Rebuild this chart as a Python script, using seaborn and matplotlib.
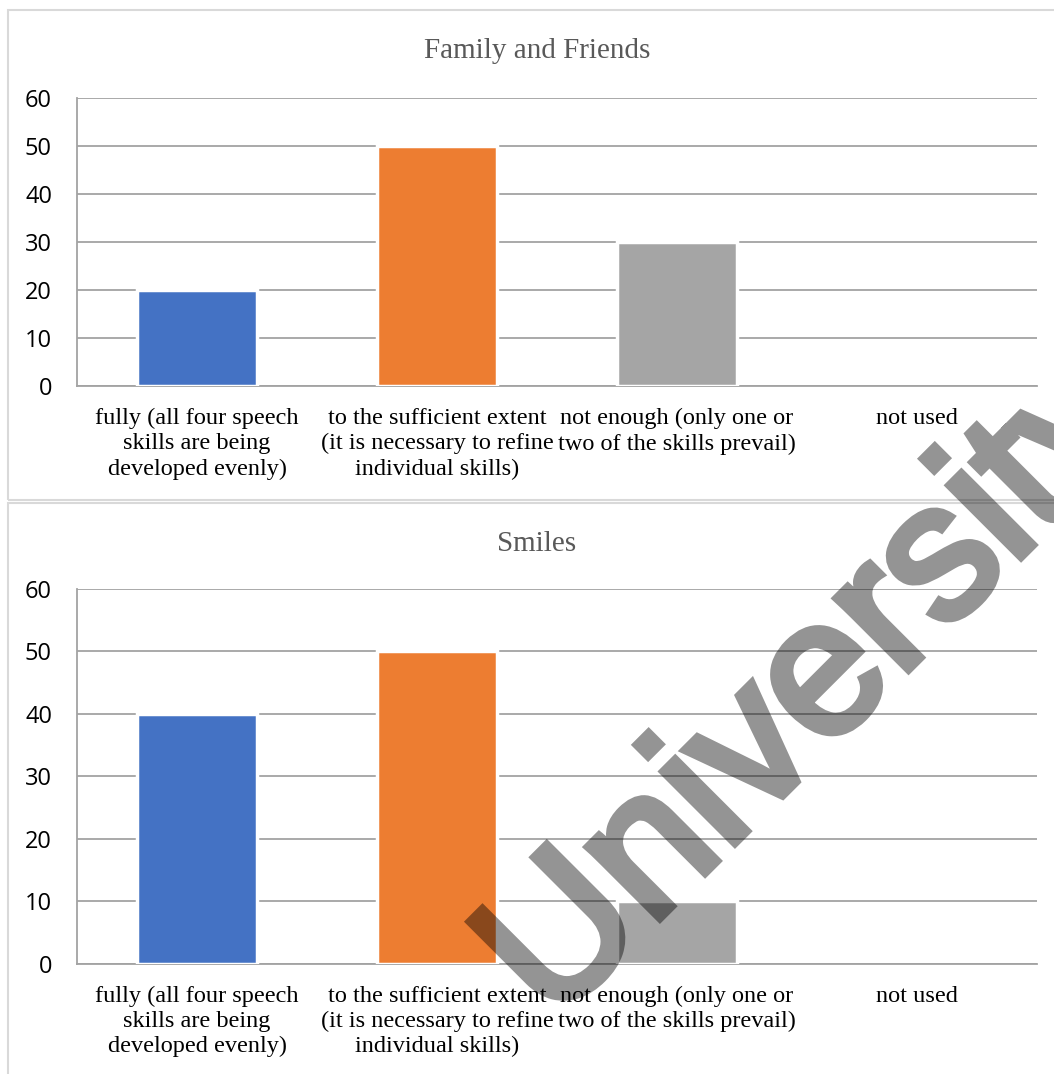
import matplotlib
matplotlib.use("Agg")
import matplotlib.pyplot as plt
import matplotlib.patheffects as pe
import seaborn as sns
from matplotlib.patches import Rectangle

# data
categories = [
    "fully (all four speech\nskills are being\ndeveloped evenly)",
    "to the sufficient extent\n(it is necessary to refine\nindividual skills)",
    "not enough (only one or\ntwo of the skills prevail)",
    "not used",
]
family_friends = [20, 50, 30, 0]
smiles = [40, 50, 10, 0]
titles = ["Family and Friends", "Smiles"]
yticks = [0, 10, 20, 30, 40, 50, 60]
colors = ["#4472C4", "#ED7D31", "#A5A5A5", "#FFC000"]

sns.set_style("white")
plt.rcParams["font.family"] = ["DejaVu Sans"]

W, H = 1054, 1074
fig = plt.figure(figsize=(W / 100, H / 100), dpi=100)

# panel frames (chart areas)
fig.add_artist(Rectangle((8 / W, 1 - 500 / H), 1060 / W, 490 / H, transform=fig.transFigure,
                         fill=False, edgecolor="#d9d9d9", lw=1.5))
fig.add_artist(Rectangle((8 / W, -0.05), 1060 / W, 1 - 503 / H + 0.05, transform=fig.transFigure,
                         fill=False, edgecolor="#d9d9d9", lw=1.5))

ax1 = fig.add_axes([77 / W, 1 - 386 / H, 960 / W, 288 / H])
ax2 = fig.add_axes([77 / W, 1 - 963.6 / H, 960 / W, 374.6 / H])

grid_c = "#a3a3a3"
for ax, vals, title, ty in [(ax1, family_friends, titles[0], 51), (ax2, smiles, titles[1], 544)]:
    sns.barplot(x=categories, y=vals, hue=categories, palette=colors, legend=False, ax=ax,
                width=0.5, edgecolor="white", linewidth=2.5, zorder=3, saturation=1)
    # empty bars would leave a white stroke over the axis
    for p in ax.patches:
        if p.get_height() == 0:
            p.set_linewidth(0)
    ax.set_ylim(0, 60)
    ax.set_xlim(-0.5, 3.5)
    ax.set_yticks(yticks)
    ax.yaxis.grid(True, color=grid_c, lw=1.3, zorder=0)
    ax.set_axisbelow(True)
    for s in ["top", "right"]:
        ax.spines[s].set_visible(False)
    ax.spines["left"].set_color(grid_c)
    ax.spines["bottom"].set_color(grid_c)
    ax.spines["left"].set_linewidth(1.3)
    ax.spines["bottom"].set_linewidth(1.3)
    ax.tick_params(axis="y", length=6, width=1.3, color=grid_c, pad=12, direction="out")
    ax.tick_params(axis="x", which="major", length=0, pad=16)
    ax.set_xticks([-0.5, 0.5, 1.5, 2.5, 3.5], minor=True)
    ax.tick_params(axis="x", which="minor", length=4, width=1.3, color=grid_c, direction="out")
    for lab in ax.get_yticklabels():
        lab.set_fontfamily("Open Sans")
        lab.set_fontsize(17)
        lab.set_color("black")
    for lab in ax.get_xticklabels():
        lab.set_fontfamily("Liberation Serif")
        lab.set_fontsize(17.5)
        lab.set_linespacing(1.25)
        lab.set_color("black")
        lab.set_verticalalignment("top")
    ax.set_ylabel("")
    fig.text(537 / W, 1 - ty / H, title, ha="center", va="center",
             fontfamily="Liberation Serif", fontsize=21, color="#595959")


# watermark: drawn opaque with a thickening stroke, then made see-through as a whole
def fade(im, dpi):
    im = im.copy()
    im[..., 3] *= 0.42
    return im, 0, 0


wm = fig.text(815 / W, 1 - 693 / H, "University", rotation=45, rotation_mode="anchor",
              ha="center", va="center", fontfamily="Liberation Sans",
              fontsize=138, color="black", zorder=10)
wm.set_path_effects([pe.Stroke(linewidth=6, foreground="black", joinstyle="miter")])
wm.set_agg_filter(fade)

fig.savefig("out.png", dpi=100)
